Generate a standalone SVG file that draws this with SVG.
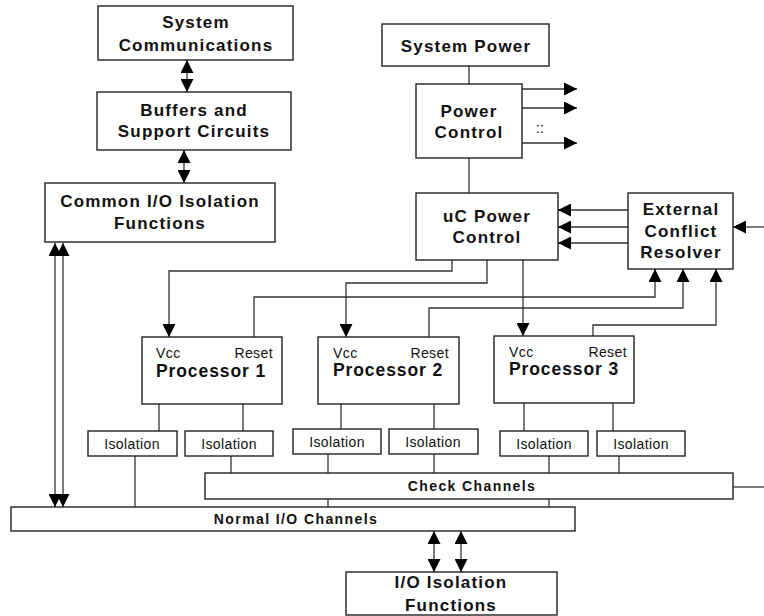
<svg xmlns="http://www.w3.org/2000/svg" width="764" height="616" viewBox="0 0 764 616">
<defs>
<marker id="ah" markerUnits="userSpaceOnUse" markerWidth="13" markerHeight="13" refX="12" refY="6" orient="auto-start-reverse" viewBox="0 0 12 12">
<path d="M0,0 L12,6 L0,12 z" fill="#000"/>
</marker>
<style>
rect{fill:#fff;stroke:#222;stroke-width:1.4}
.c path,.c line{fill:none;stroke:#333;stroke-width:1.3}
.t{font-family:"Liberation Sans",Arial,sans-serif;font-weight:bold;font-size:17px;letter-spacing:1.2px;text-anchor:middle;fill:#111}
.s{font-family:"Liberation Sans",Arial,sans-serif;font-size:14px;letter-spacing:0.4px;fill:#111}
.p{font-family:"Liberation Sans",Arial,sans-serif;font-weight:bold;font-size:17.5px;letter-spacing:0.9px;fill:#111}
.b{font-family:"Liberation Sans",Arial,sans-serif;font-weight:bold;font-size:14px;letter-spacing:1.4px;text-anchor:middle;fill:#111}
.e{marker-end:url(#ah)}
.d{marker-start:url(#ah);marker-end:url(#ah)}
</style>
</defs>
<g id="connectors" class="c">
<line class="d" x1="187" y1="60" x2="187" y2="92"/>
<line class="d" x1="184" y1="150" x2="184" y2="183"/>
<line x1="469" y1="66" x2="469" y2="84"/>
<line x1="469" y1="158" x2="469" y2="193"/>
<line class="e" x1="522" y1="89" x2="577" y2="89"/>
<line class="e" x1="522" y1="108" x2="577" y2="108"/>
<line class="e" x1="522" y1="143" x2="577" y2="143"/>
<line class="e" x1="628" y1="210" x2="558" y2="210"/>
<line class="e" x1="628" y1="227" x2="558" y2="227"/>
<line class="e" x1="628" y1="243" x2="558" y2="243"/>
<line class="e" x1="764" y1="227" x2="733" y2="227"/>
<path class="e" d="M452,260 V271 H169 V337"/>
<path class="e" d="M487,260 V283 H346 V337"/>
<path class="e" d="M523,260 V336"/>
<path class="e" d="M254,337 V297 H655 V269"/>
<path class="e" d="M429,337 V308 H683 V269"/>
<path class="e" d="M593,336 V325 H716 V269"/>
<line x1="159" y1="404" x2="159" y2="431"/>
<line x1="243" y1="404" x2="243" y2="431"/>
<line x1="341" y1="404" x2="341" y2="429"/>
<line x1="434" y1="404" x2="434" y2="429"/>
<line x1="524" y1="403" x2="524" y2="431"/>
<line x1="613" y1="403" x2="613" y2="431"/>
<line x1="135" y1="456" x2="135" y2="507"/>
<line x1="231" y1="456" x2="231" y2="473"/>
<line x1="328" y1="454" x2="328" y2="473"/>
<line x1="434" y1="454" x2="434" y2="473"/>
<line x1="549" y1="456" x2="549" y2="473"/>
<line x1="619" y1="456" x2="619" y2="473"/>
<line x1="328" y1="499" x2="328" y2="507"/>
<line x1="549" y1="499" x2="549" y2="507"/>
<line x1="733" y1="487" x2="764" y2="487"/>
<line class="d" x1="55" y1="243" x2="55" y2="507"/>
<line class="d" x1="63" y1="243" x2="63" y2="507"/>
<line class="d" x1="434" y1="531" x2="434" y2="572"/>
<line class="d" x1="461" y1="531" x2="461" y2="572"/>
</g>
<g id="system-communications"><rect x="98" y="6" width="195" height="54"/><text class="t" x="196" y="28">System</text><text class="t" x="196" y="51">Communications</text></g>
<g id="buffers"><rect x="97" y="92" width="194" height="58"/><text class="t" x="194" y="116">Buffers and</text><text class="t" x="194" y="137">Support Circuits</text></g>
<g id="common-io"><rect x="45" y="183" width="230" height="59"/><text class="t" x="160" y="207">Common I/O Isolation</text><text class="t" x="160" y="229">Functions</text></g>
<g id="system-power"><rect x="382" y="24" width="167" height="42"/><text class="t" x="466" y="52">System Power</text></g>
<g id="power-control"><rect x="416" y="84" width="106" height="74"/><text class="t" x="469" y="117">Power</text><text class="t" x="469" y="138">Control</text><text class="s" x="540" y="133" text-anchor="middle" style="fill:#000">::</text></g>
<g id="uc-power-control"><rect x="416" y="193" width="142" height="67"/><text class="t" x="487" y="222">uC Power</text><text class="t" x="487" y="243">Control</text></g>
<g id="conflict-resolver"><rect x="628" y="193" width="105" height="76"/><text class="t" x="681" y="215">External</text><text class="t" x="681" y="237">Conflict</text><text class="t" x="681" y="258">Resolver</text></g>
<g id="processor-1"><rect x="142" y="337" width="140" height="67"/><text class="s" x="156" y="358">Vcc</text><text class="s" x="273" y="358" text-anchor="end">Reset</text><text class="p" x="156" y="377">Processor 1</text></g>
<g id="processor-2"><rect x="318" y="337" width="141" height="67"/><text class="s" x="333" y="358">Vcc</text><text class="s" x="449" y="358" text-anchor="end">Reset</text><text class="p" x="333" y="376">Processor 2</text></g>
<g id="processor-3"><rect x="494" y="336" width="140" height="67"/><text class="s" x="509" y="357">Vcc</text><text class="s" x="627" y="357" text-anchor="end">Reset</text><text class="p" x="509" y="375">Processor 3</text></g>
<g id="isolation-1"><rect x="88" y="431" width="89" height="25"/><text class="s" x="132" y="449" text-anchor="middle">Isolation</text></g>
<g id="isolation-2"><rect x="185" y="431" width="88" height="25"/><text class="s" x="229" y="449" text-anchor="middle">Isolation</text></g>
<g id="isolation-3"><rect x="293" y="429" width="88" height="25"/><text class="s" x="337" y="447" text-anchor="middle">Isolation</text></g>
<g id="isolation-4"><rect x="389" y="429" width="89" height="25"/><text class="s" x="433" y="447" text-anchor="middle">Isolation</text></g>
<g id="isolation-5"><rect x="500" y="431" width="88" height="25"/><text class="s" x="544" y="449" text-anchor="middle">Isolation</text></g>
<g id="isolation-6"><rect x="597" y="431" width="88" height="25"/><text class="s" x="641" y="449" text-anchor="middle">Isolation</text></g>
<g id="check-channels"><rect x="205" y="473" width="528" height="26"/><text class="b" x="472" y="491">Check Channels</text></g>
<g id="normal-io"><rect x="11" y="507" width="564" height="24"/><text class="b" x="296" y="524">Normal I/O Channels</text></g>
<g id="io-isolation"><rect x="346" y="572" width="211" height="43"/><text class="t" x="451" y="588">I/O Isolation</text><text class="t" x="451" y="611">Functions</text></g>
</svg>
